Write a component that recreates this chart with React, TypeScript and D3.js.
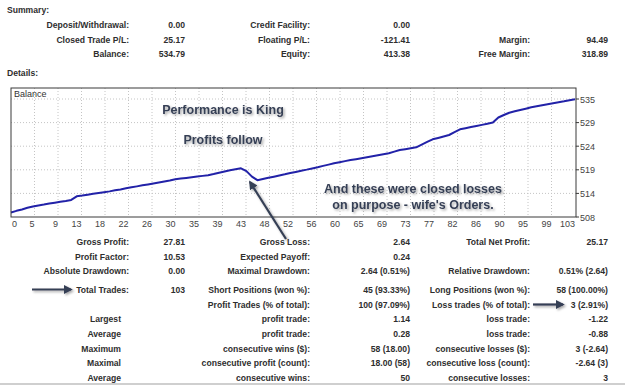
import React from "react";
import * as d3 from "d3";

const W = 625;
const H = 385;
const FONT = "'Liberation Sans', Arial, sans-serif";
const INK = "#2e2e2e";

// balance before the first trade
const startBalance = 509.62;

// profit of every closed trade, in order (103 trades)
const tradeProfits = [
  0.35, 0.31, 0.36, 0.31,
  0.22, 0.19, 0.23, 0.2, 0.21, 0.18, 0.22,
  0.8,
  0.17, 0.2, 0.18, 0.19, 0.17, 0.19,
  0.23, 0.21, 0.24, 0.22,
  0.21, 0.23, 0.2, 0.22, 0.21, 0.23,
  0.22, 0.28,
  0.14, 0.16, 0.15, 0.14, 0.16, 0.15,
  0.26, 0.29, 0.27, 0.28,
  0.22, 0.21,
  -0.62, -1.22, -0.8,
  0.25, 0.27, 0.26,
  0.27, 0.25, 0.28, 0.26, 0.27,
  0.24, 0.27, 0.25,
  0.31, 0.28, 0.3,
  0.25, 0.23, 0.25,
  0.19, 0.21, 0.2,
  0.22, 0.23, 0.21, 0.23,
  0.38, 0.35,
  0.19, 0.21, 0.2,
  0.58, 0.61, 0.59,
  0.31, 0.33, 0.32,
  0.62, 0.64,
  0.24, 0.26, 0.24,
  0.25, 0.27, 0.24,
  1.14,
  0.55, 0.51,
  0.31, 0.29,
  0.29, 0.31,
  0.22, 0.24, 0.21, 0.23,
  0.23, 0.21, 0.24, 0.21,
];

const xTickLabels = [
  "0", "5", "9", "13", "18", "22", "26", "30", "35", "39", "43", "48", "52",
  "56", "60", "65", "69", "73", "77", "82", "86", "90", "95", "99", "103",
];
const yTickLabels = ["508", "514", "519", "524", "529", "535"];

type Pair = [string, string] | null;

const summaryRows: Pair[][] = [
  [["Deposit/Withdrawal:", "0.00"], ["Credit Facility:", "0.00"], null],
  [["Closed Trade P/L:", "25.17"], ["Floating P/L:", "-121.41"], ["Margin:", "94.49"]],
  [["Balance:", "534.79"], ["Equity:", "413.38"], ["Free Margin:", "318.89"]],
];

const detailRows: Pair[][] = [
  [["Gross Profit:", "27.81"], ["Gross Loss:", "2.64"], ["Total Net Profit:", "25.17"]],
  [["Profit Factor:", "10.53"], ["Expected Payoff:", "0.24"], null],
  [["Absolute Drawdown:", "0.00"], ["Maximal Drawdown:", "2.64 (0.51%)"], ["Relative Drawdown:", "0.51% (2.64)"]],
  [["Total Trades:", "103"], ["Short Positions (won %):", "45 (93.33%)"], ["Long Positions (won %):", "58 (100.00%)"]],
  [null, ["Profit Trades (% of total):", "100 (97.09%)"], ["Loss trades (% of total):", "3 (2.91%)"]],
  [["Largest", ""], ["profit trade:", "1.14"], ["loss trade:", "-1.22"]],
  [["Average", ""], ["profit trade:", "0.28"], ["loss trade:", "-0.88"]],
  [["Maximum", ""], ["consecutive wins ($):", "58 (18.00)"], ["consecutive losses ($):", "3 (-2.64)"]],
  [["Maximal", ""], ["consecutive profit (count):", "18.00 (58)"], ["consecutive loss (count):", "-2.64 (3)"]],
  [["Average", ""], ["consecutive wins:", "50"], ["consecutive losses:", "3"]],
];

// right edges of label / value columns
const colLabelX = [129, 310, 530];
const colValueX = [185, 410, 608];
const summaryY = [25, 39.5, 54];
const detailY = [242, 256.5, 271, 289.5, 304.5, 319, 334, 348.5, 363, 377.5];

const frame = { left: 11, top: 88, right: 576, bottom: 217 };

function Cells({ rows, ys }: { rows: Pair[][]; ys: number[] }) {
  return (
    <g fontFamily={FONT} fontSize={8.6} fontWeight="bold" fill={INK}>
      {rows.map((row, r) =>
        row.map((cell, c) => {
          if (!cell) return null;
          const noColon = c === 0 && !cell[0].endsWith(":");
          return (
            <g key={`${r}-${c}`}>
              <text x={colLabelX[c] - (noColon ? 8 : 0)} y={ys[r] + 3} textAnchor="end">
                {cell[0]}
              </text>
              <text x={colValueX[c]} y={ys[r] + 3} textAnchor="end">
                {cell[1]}
              </text>
            </g>
          );
        })
      )}
    </g>
  );
}

export default function App() {
  const balance = [
    startBalance,
    ...Array.from(d3.cumsum(tradeProfits), (v) => startBalance + v),
  ];
  const n = tradeProfits.length;
  const x = d3.scaleLinear().domain([0, n]).range([frame.left, 575]);
  const y = d3.scaleLinear().domain([508.6, 534.85]).range([frame.bottom, 99]);
  const line = d3
    .line<number>()
    .x((_, i) => x(i))
    .y((d) => y(d));

  const [y0, y1] = y.domain();
  const yTicks = yTickLabels.map((t, i) => ({
    t,
    py: y(y0 + (i * (y1 - y0)) / (yTickLabels.length - 1)),
  }));
  const xTicks = xTickLabels.map((t, i) => ({
    t,
    px: x((i * n) / (xTickLabels.length - 1)),
  }));

  const noteColor = "#363f55";

  return (
    <div style={{ position: "absolute", left: 0, top: 0 }}>
      <svg width={W} height={H} style={{ display: "block", background: "#fff" }}>
        <defs>
          <filter id="soft" x="-10%" y="-30%" width="120%" height="160%">
            <feDropShadow dx="1.5" dy="1.5" stdDeviation="1.2" floodColor="#000" floodOpacity="0.35" />
          </filter>
          <marker id="head" viewBox="0 0 10 10" refX="8" refY="5" markerWidth="4" markerHeight="4" orient="auto">
            <path d="M0,0 L10,5 L0,10 Z" fill={noteColor} />
          </marker>
        </defs>

        <g fontFamily={FONT} fontSize={8.6} fontWeight="bold" fill={INK}>
          <text x={7} y={13}>Summary:</text>
          <text x={7} y={76}>Details:</text>
        </g>
        <Cells rows={summaryRows} ys={summaryY} />

        {/* balance chart */}
        <g>
          {yTicks.slice(1).map((d) => (
            <line key={d.t} x1={frame.left} x2={frame.right} y1={d.py} y2={d.py}
              stroke="#c4c4c4" strokeDasharray="1 2" />
          ))}
          {xTicks.slice(1, -1).map((d) => (
            <line key={d.t} x1={d.px} x2={d.px} y1={frame.top} y2={frame.bottom}
              stroke="#c4c4c4" strokeDasharray="1 2" />
          ))}
          <path d={line(balance) ?? ""} fill="none" stroke="#2222a8" strokeWidth={2} strokeLinejoin="round" />
          <rect x={frame.left} y={frame.top} width={frame.right - frame.left}
            height={frame.bottom - frame.top} fill="none" stroke="#3a3a3a" />
          <text x={14} y={97} fontFamily={FONT} fontSize={9} fill="#333">Balance</text>
          {yTicks.map((d) => (
            <g key={d.t}>
              <line x1={frame.right} x2={frame.right + 3} y1={d.py} y2={d.py} stroke="#3a3a3a" />
              <text x={frame.right + 4} y={d.py + 3.5} fontFamily={FONT} fontSize={9} fill="#444">
                {d.t}
              </text>
            </g>
          ))}
          {xTicks.map((d, i) => (
            <text key={d.t} x={i === 0 ? d.px + 1 : d.px} y={227}
              textAnchor={i === 0 ? "start" : "end"} fontFamily={FONT} fontSize={9} fill="#444">
              {d.t}
            </text>
          ))}
        </g>

        {/* notes */}
        <g fontFamily={FONT} fontSize={12.5} fontWeight="bold" fill={noteColor}
          textAnchor="middle" filter="url(#soft)">
          <text x={223} y={114}>Performance is King</text>
          <text x={223} y={144}>Profits follow</text>
          <text x={413} y={193}>And these were closed losses</text>
          <text x={413} y={209}>on purpose - wife's Orders.</text>
        </g>
        <g stroke={noteColor} strokeWidth={2.2} markerEnd="url(#head)" filter="url(#soft)">
          <line x1={286} y1={239} x2={250} y2={182} />
          <line x1={32} y1={detailY[3]} x2={71} y2={detailY[3]} />
          <line x1={533} y1={detailY[4]} x2={563} y2={detailY[4]} />
        </g>

        <Cells rows={detailRows} ys={detailY} />
        <rect x={0} y={383} width={W} height={2} fill="#cfcfcf" />
      </svg>
    </div>
  );
}
